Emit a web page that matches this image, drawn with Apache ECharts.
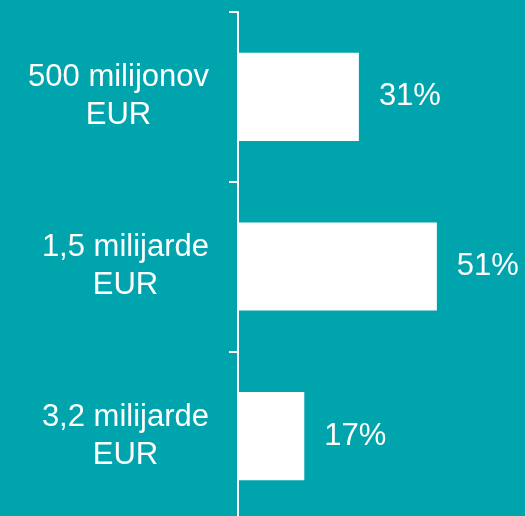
<!DOCTYPE html>
<html>
<head>
<meta charset="utf-8">
<script src="https://cdn.jsdelivr.net/npm/echarts@6/dist/echarts.min.js"></script>
<style>
  html, body { margin: 0; padding: 0; background: #00A4AD; overflow: hidden; }
  /* nekoliko višje od okna, da spodnja kljukica pade izven slike */
  #box { width: 525px; height: 521px; }
</style>
</head>
<body>
<div id="box"></div>
<script>
// kategorije (zgoraj navzdol)
const categories = ["500 milijonov\nEUR", "1,5 milijarde\nEUR", "3,2 milijarde\nEUR"];
// deleži v %
const shares = [31, 51, 17];

const FONT = "'Liberation Sans', Arial, sans-serif";

const chart = echarts.init(document.getElementById("box"));

const option = {
  backgroundColor: "#00A4AD",
  animation: false,
  grid: { left: 238, right: 0, top: 12, bottom: 0 },
  xAxis: {
    type: "value",
    min: 0,
    max: 73.6,
    show: false
  },
  yAxis: {
    type: "category",
    inverse: true,
    data: categories,
    axisLine: { show: true, lineStyle: { color: "#ffffff", width: 2 } },
    axisTick: { show: true, alignWithLabel: false, length: 9, lineStyle: { color: "#ffffff", width: 2 } },
    axisLabel: {
      margin: 29,
      align: "right",
      formatter: function (v) {
        return v.split("\n").map(function (s) { return "{a|" + s + "}"; }).join("\n");
      },
      rich: {
        a: {
          color: "#ffffff",
          fontFamily: FONT,
          fontSize: 31,
          lineHeight: 38,
          align: "center"
        }
      }
    }
  },
  series: [
    {
      type: "bar",
      data: shares,
      barCategoryGap: "48%",
      itemStyle: { color: "#ffffff" },
      label: {
        show: true,
        position: "right",
        distance: 20,
        formatter: "{c}%",
        color: "#ffffff",
        fontFamily: FONT,
        fontSize: 31
      }
    }
  ]
};

chart.setOption(option);
</script>
</body>
</html>
